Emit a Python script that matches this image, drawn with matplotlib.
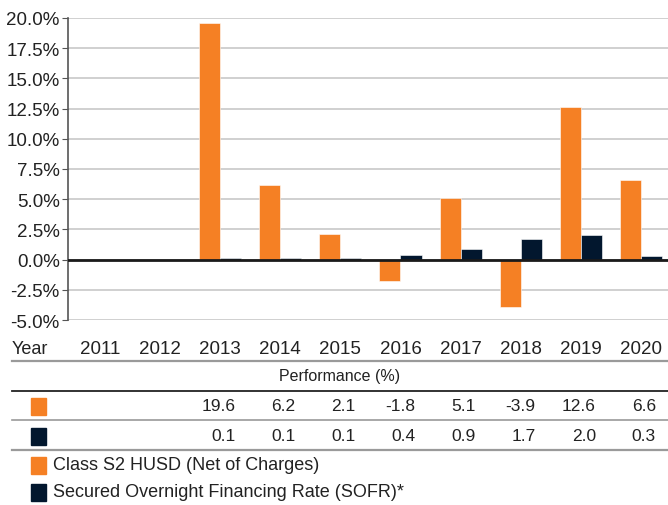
import matplotlib
matplotlib.use("Agg")
import matplotlib.pyplot as plt
import matplotlib.transforms as mtransforms
from matplotlib.lines import Line2D
from matplotlib.patches import Rectangle
import numpy as np

years = ["2011", "2012", "2013", "2014", "2015", "2016", "2017", "2018", "2019", "2020"]
class_s2 = [np.nan, np.nan, 19.6, 6.2, 2.1, -1.8, 5.1, -3.9, 12.6, 6.6]
sofr = [np.nan, np.nan, 0.1, 0.1, 0.1, 0.4, 0.9, 1.7, 2.0, 0.3]
series_names = ["Class S2 HUSD (Net of Charges)", "Secured Overnight Financing Rate (SOFR)*"]
y_ticks = [-5.0, -2.5, 0.0, 2.5, 5.0, 7.5, 10.0, 12.5, 15.0, 17.5, 20.0]

ORANGE = "#F58024"
NAVY = "#02172E"

plt.rcParams["font.family"] = ["Liberation Sans Narrow", "Liberation Sans", "DejaVu Sans"]

W, H = 668, 506
fig = plt.figure(figsize=(W / 100, H / 100), dpi=100)
ax = fig.add_axes([68 / W, 1 - 321 / H, 1 - 68 / W, (321 - 19) / H])

x = np.arange(len(years))
bw = 0.35
ax.bar(x - bw / 2, class_s2, bw, color=ORANGE, edgecolor="white", linewidth=0.4, zorder=3)
ax.bar(x + bw / 2, sofr, bw, color=NAVY, edgecolor="white", linewidth=0.4, zorder=3)

ax.set_xlim(-0.53, 9.45)
ax.set_ylim(-5, 20)
ax.set_yticks(y_ticks)
ax.set_yticklabels([f"{v:.1f}%" for v in y_ticks], fontsize=13.5, color="#222222")
ax.set_xticks([])
ax.grid(axis="y", color="#c8c8c8", linewidth=1.2, zorder=0)
ax.axhline(0, color="#1a1a1a", linewidth=2, zorder=4)
for s in ["top", "right", "bottom"]:
    ax.spines[s].set_visible(False)
ax.spines["left"].set_color("#555555")
ax.spines["left"].set_linewidth(1.2)
ax.tick_params(axis="y", length=4, color="#555555", pad=2)

# table below the chart
tr = mtransforms.blended_transform_factory(ax.transData, fig.transFigure)


def fy(py):
    return 1 - py / H


fig.text(30 / W, fy(349), "Year", ha="center", va="center", fontsize=13, color="#222222")
for i, yr in enumerate(years):
    ax.text(i, fy(349), yr, transform=tr, ha="center", va="center", fontsize=13.5,
            color="#222222", clip_on=False)

fig.text(0.5 * (12 / W + 1), fy(377), "Performance (%)", ha="center", va="center",
         fontsize=11.5, color="#222222")


def hline(py, color, lw):
    fig.add_artist(Line2D([12 / W, 1], [fy(py), fy(py)], color=color, linewidth=lw,
                          transform=fig.transFigure))


hline(362, "#9a9a9a", 1.6)
hline(392, "#222222", 1.3)
hline(421, "#9a9a9a", 1.2)
hline(451, "#9a9a9a", 1.6)

for row_y, vals, col in [(407, class_s2, ORANGE), (437, sofr, NAVY)]:
    fig.add_artist(Rectangle((31 / W, fy(row_y + 9)), 15 / W, 17 / H, color=col,
                             transform=fig.transFigure))
    for i, v in enumerate(vals):
        if not np.isnan(v):
            ax.text(i + 0.25, fy(row_y), f"{v:.1f}", transform=tr, ha="right", va="center",
                    fontsize=12.5, color="#222222", clip_on=False)

for row_y, name, col in [(466, series_names[0], ORANGE), (493, series_names[1], NAVY)]:
    fig.add_artist(Rectangle((31 / W, fy(row_y + 9)), 15 / W, 17 / H, color=col,
                             transform=fig.transFigure))
    fig.text(53 / W, fy(row_y), name, ha="left", va="center", fontsize=13, color="#222222")

fig.savefig("out.png", dpi=100)
plt.close(fig)
